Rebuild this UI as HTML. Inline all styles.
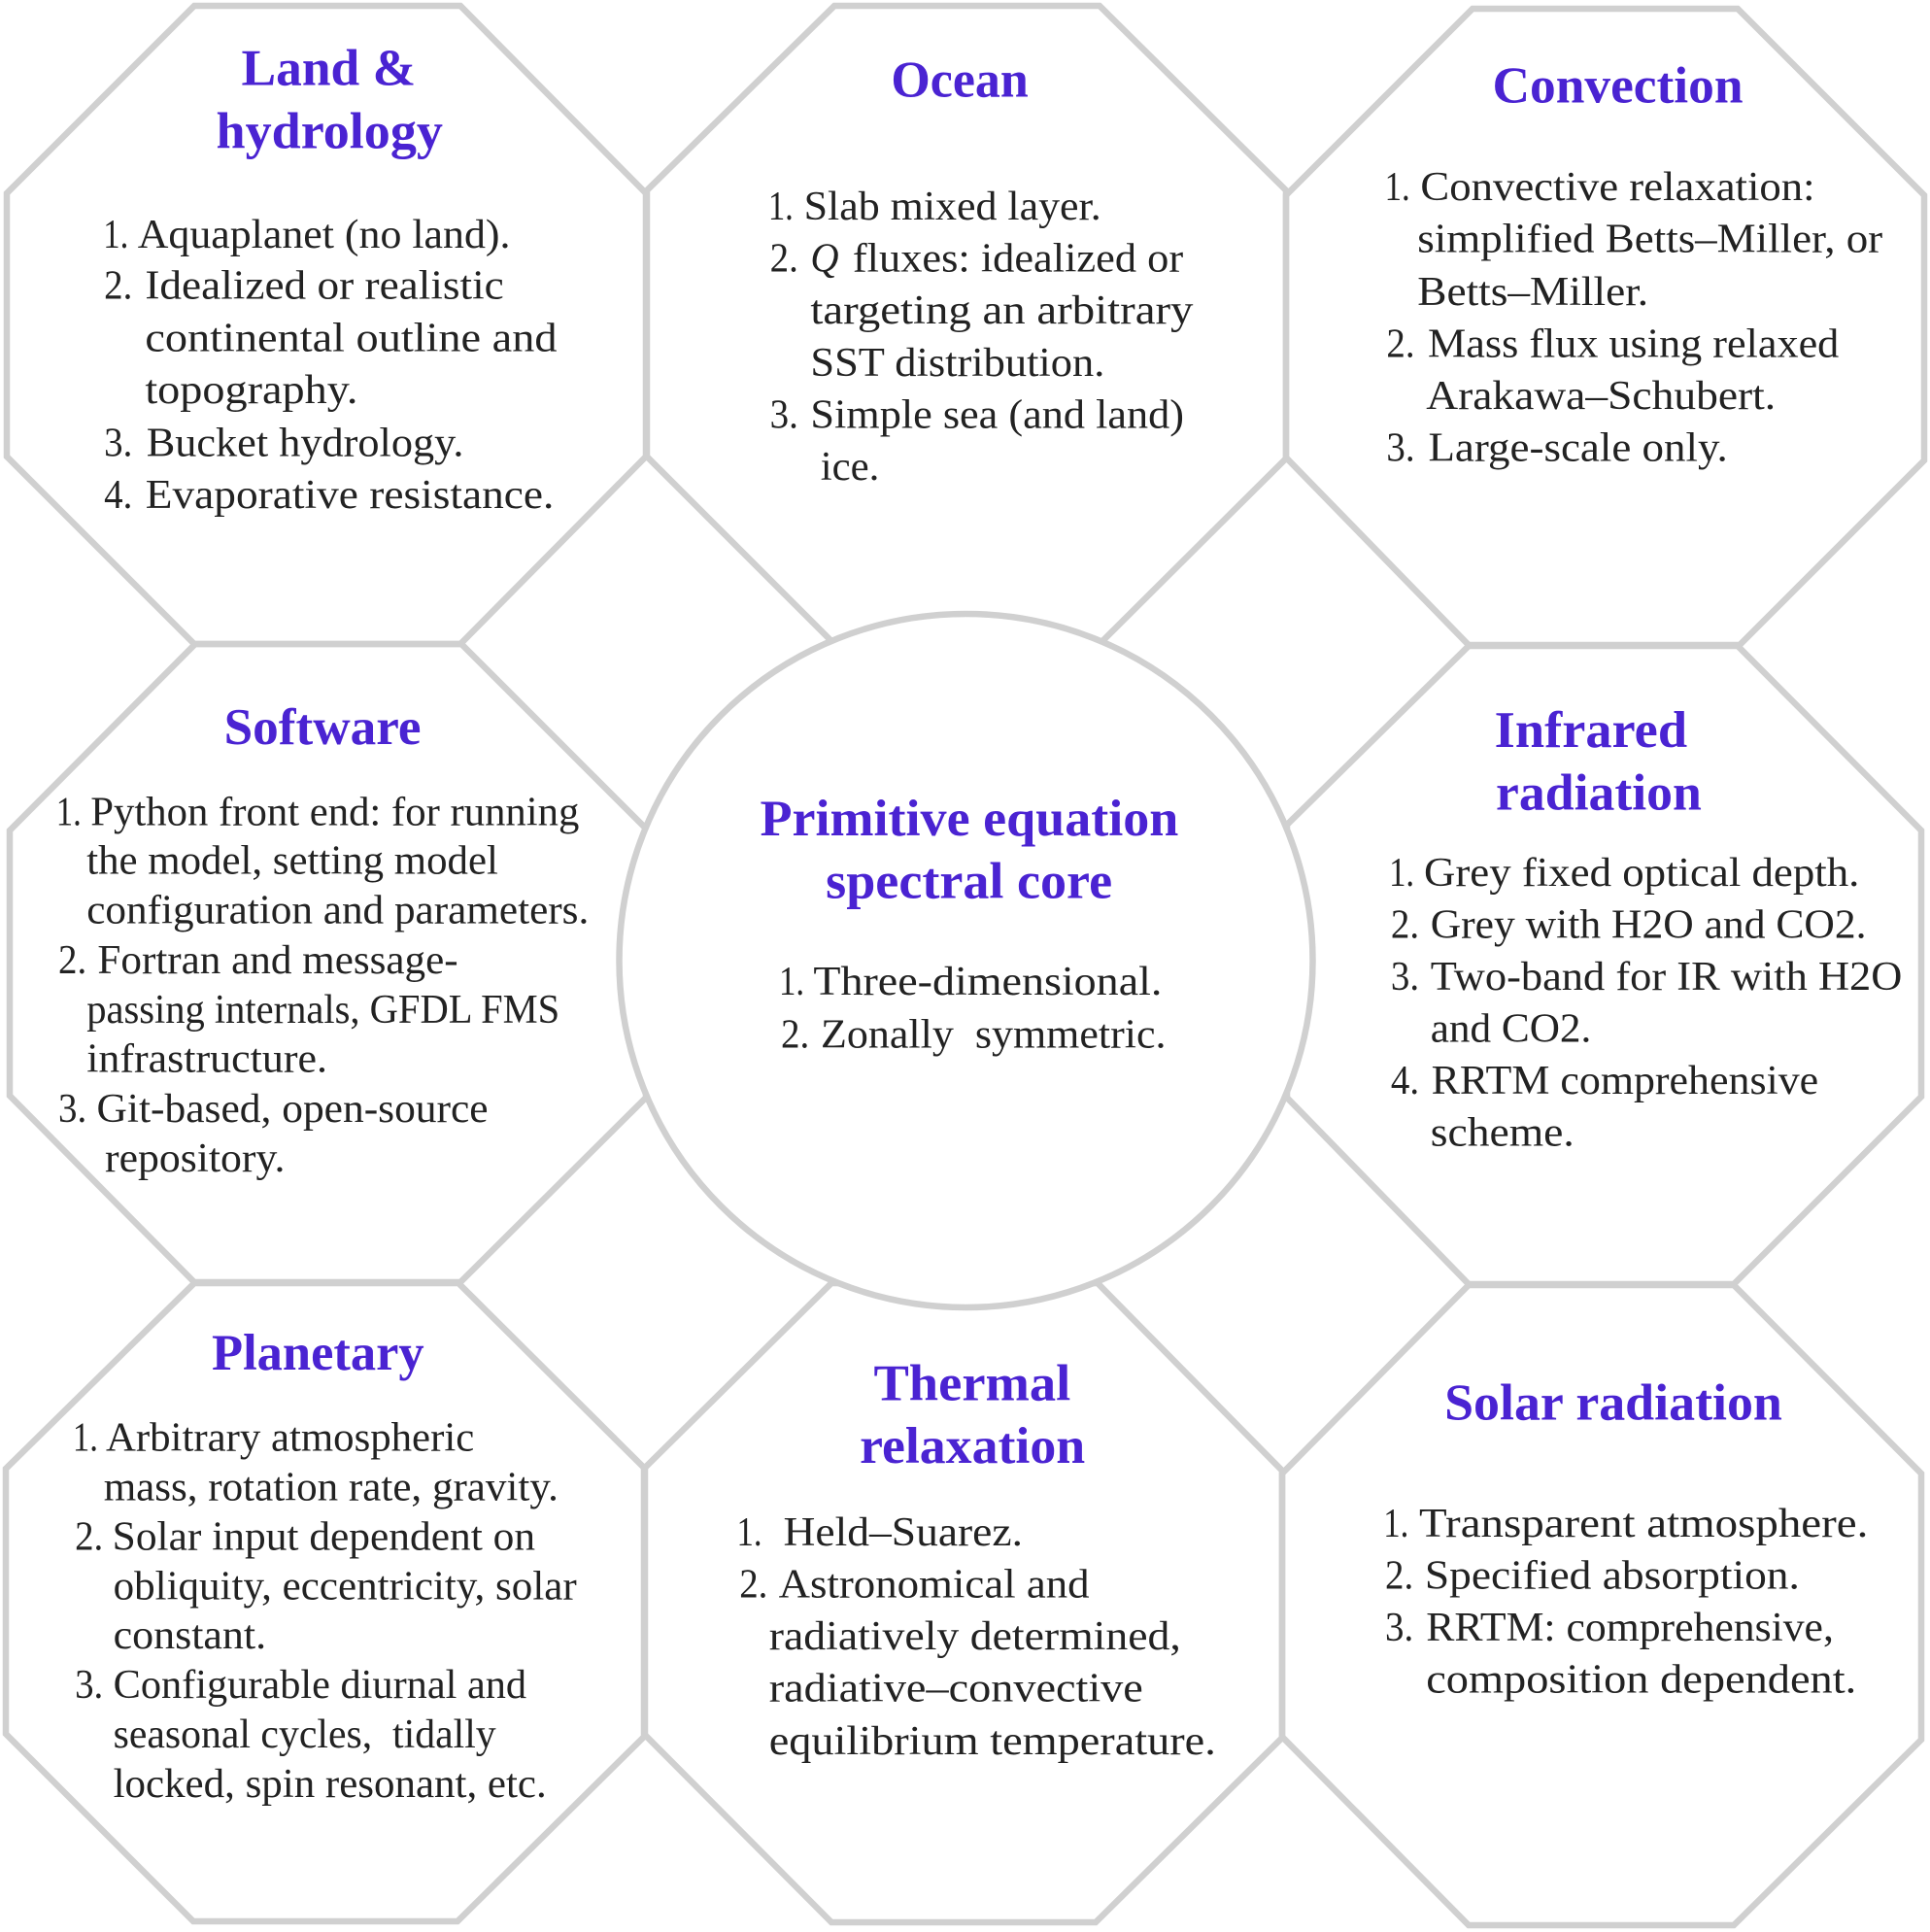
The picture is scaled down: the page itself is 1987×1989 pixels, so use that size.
<!DOCTYPE html>
<html><head><meta charset="utf-8"><style>
html,body{margin:0;padding:0;background:#fff;width:1987px;height:1989px;overflow:hidden}
svg{display:block}
.b{font-family:"Liberation Serif",serif;font-size:94px;fill:#222}
.c{font-family:"Liberation Serif",serif;font-size:82px;fill:#222}
.t{font-family:"Liberation Serif",serif;font-weight:bold;font-size:119px;fill:#4a23d2}
.u{font-family:"Liberation Serif",serif;font-weight:bold;font-size:104px;fill:#4a23d2}
</style></head><body>
<svg width="1987" height="1989" viewBox="0 0 1987 1989" xmlns="http://www.w3.org/2000/svg">
<rect width="1987" height="1989" fill="#fff"/>
<g fill="none" stroke="#d0d0d0" stroke-width="6.5" stroke-linejoin="miter">
<polygon points="200,6 474,6 665,199 665,470 474,663 200,663 7,470 7,199"/>
<polygon points="859,6 1132,6 1324,196 1324,472 1132,663 859,663 666,470 666,196"/>
<polygon points="1516,9 1789,9 1981,201 1981,474 1791,664 1512,664 1324,471 1324,201"/>
<polygon points="201,663 475,663 665,853 665,1130 474,1320 200,1320 10,1128 10,855"/>
<polygon points="1512,665 1789,665 1978,855 1978,1129 1785,1322 1512,1322 1325,1130 1325,849"/>
<polygon points="200,1321 472,1321 664,1512 664,1787 471,1978 199,1978 6,1785 6,1512"/>
<polygon points="856,1321 1130,1321 1320,1514 1320,1789 1128,1979 856,1979 663,1785 663,1512"/>
<polygon points="1512,1323 1785,1323 1978,1517 1978,1791 1785,1982 1512,1982 1320,1788 1320,1517"/>
</g>
<circle cx="994.5" cy="989" r="357" fill="#fff" stroke="#d0d0d0" stroke-width="6.5"/>

<g transform="translate(-1.9,0.6) scale(0.44884,0.44643)">
<text class="t" x="558" y="195" textLength="400" lengthAdjust="spacingAndGlyphs">Land &amp;</text>
<text class="t" x="500" y="340" textLength="520" lengthAdjust="spacingAndGlyphs">hydrology</text>
<text class="b" x="241" y="570" textLength="58" lengthAdjust="spacingAndGlyphs">1.</text>
<text class="b" x="320" y="570" textLength="855" lengthAdjust="spacingAndGlyphs">Aquaplanet (no land).</text>
<text class="b" x="243" y="688" textLength="65" lengthAdjust="spacingAndGlyphs">2.</text>
<text class="b" x="337" y="688" textLength="823" lengthAdjust="spacingAndGlyphs">Idealized or realistic</text>
<text class="b" x="337" y="808" textLength="945" lengthAdjust="spacingAndGlyphs">continental outline and</text>
<text class="b" x="337" y="928" textLength="488" lengthAdjust="spacingAndGlyphs">topography.</text>
<text class="b" x="243" y="1050" textLength="65" lengthAdjust="spacingAndGlyphs">3.</text>
<text class="b" x="340" y="1050" textLength="728" lengthAdjust="spacingAndGlyphs">Bucket hydrology.</text>
<text class="b" x="243" y="1170" textLength="65" lengthAdjust="spacingAndGlyphs">4.</text>
<text class="b" x="338" y="1170" textLength="937" lengthAdjust="spacingAndGlyphs">Evaporative resistance.</text>
</g>

<g transform="translate(648.1,0.6) scale(0.44884,0.44643)">
<text class="t" x="600" y="222" textLength="315" lengthAdjust="spacingAndGlyphs">Ocean</text>
<text class="b" x="318" y="505" textLength="58" lengthAdjust="spacingAndGlyphs">1.</text>
<text class="b" x="400" y="505" textLength="682" lengthAdjust="spacingAndGlyphs">Slab mixed layer.</text>
<text class="b" x="322" y="625" textLength="65" lengthAdjust="spacingAndGlyphs">2.</text>
<text class="b" x="415" y="625" textLength="65" lengthAdjust="spacingAndGlyphs" font-style="italic">Q</text>
<text class="b" x="512" y="625" textLength="758" lengthAdjust="spacingAndGlyphs">fluxes: idealized or</text>
<text class="b" x="415" y="745" textLength="878" lengthAdjust="spacingAndGlyphs">targeting an arbitrary</text>
<text class="b" x="415" y="865" textLength="675" lengthAdjust="spacingAndGlyphs">SST distribution.</text>
<text class="b" x="322" y="985" textLength="65" lengthAdjust="spacingAndGlyphs">3.</text>
<text class="b" x="415" y="985" textLength="857" lengthAdjust="spacingAndGlyphs">Simple sea (and land)</text>
<text class="b" x="438" y="1105" textLength="135" lengthAdjust="spacingAndGlyphs">ice.</text>
</g>

<g transform="translate(1285.1,0.6) scale(0.44884,0.44643)">
<text class="t" x="560" y="235" textLength="575" lengthAdjust="spacingAndGlyphs">Convection</text>
<text class="b" x="313" y="460" textLength="58" lengthAdjust="spacingAndGlyphs">1.</text>
<text class="b" x="395" y="460" textLength="905" lengthAdjust="spacingAndGlyphs">Convective relaxation:</text>
<text class="b" x="388" y="580" textLength="1067" lengthAdjust="spacingAndGlyphs">simplified Betts–Miller, or</text>
<text class="b" x="388" y="702" textLength="530" lengthAdjust="spacingAndGlyphs">Betts–Miller.</text>
<text class="b" x="317" y="822" textLength="65" lengthAdjust="spacingAndGlyphs">2.</text>
<text class="b" x="412" y="822" textLength="943" lengthAdjust="spacingAndGlyphs">Mass flux using relaxed</text>
<text class="b" x="408" y="942" textLength="802" lengthAdjust="spacingAndGlyphs">Arakawa–Schubert.</text>
<text class="b" x="317" y="1062" textLength="65" lengthAdjust="spacingAndGlyphs">3.</text>
<text class="b" x="413" y="1062" textLength="687" lengthAdjust="spacingAndGlyphs">Large-scale only.</text>
</g>

<g transform="translate(-1.9,650.6) scale(0.44884,0.44643)">
<text class="t" x="518" y="258" textLength="452" lengthAdjust="spacingAndGlyphs">Software</text>
<text class="b" x="133" y="445" textLength="58" lengthAdjust="spacingAndGlyphs">1.</text>
<text class="b" x="212" y="445" textLength="1121" lengthAdjust="spacingAndGlyphs">Python front end: for running</text>
<text class="b" x="203" y="558" textLength="944" lengthAdjust="spacingAndGlyphs">the model, setting model</text>
<text class="b" x="203" y="672" textLength="1152" lengthAdjust="spacingAndGlyphs">configuration and parameters.</text>
<text class="b" x="138" y="787" textLength="65" lengthAdjust="spacingAndGlyphs">2.</text>
<text class="b" x="228" y="787" textLength="827" lengthAdjust="spacingAndGlyphs">Fortran and message-</text>
<text class="b" x="203" y="901" textLength="1085" lengthAdjust="spacingAndGlyphs">passing internals, GFDL FMS</text>
<text class="b" x="203" y="1015" textLength="552" lengthAdjust="spacingAndGlyphs">infrastructure.</text>
<text class="b" x="138" y="1130" textLength="65" lengthAdjust="spacingAndGlyphs">3.</text>
<text class="b" x="226" y="1130" textLength="898" lengthAdjust="spacingAndGlyphs">Git-based, open-source</text>
<text class="b" x="245" y="1244" textLength="413" lengthAdjust="spacingAndGlyphs">repository.</text>
</g>

<g transform="translate(1285.1,650.6) scale(0.44884,0.44643)">
<text class="t" x="565" y="265" textLength="442" lengthAdjust="spacingAndGlyphs">Infrared</text>
<text class="t" x="568" y="410" textLength="472" lengthAdjust="spacingAndGlyphs">radiation</text>
<text class="b" x="323" y="585" textLength="58" lengthAdjust="spacingAndGlyphs">1.</text>
<text class="b" x="403" y="585" textLength="999" lengthAdjust="spacingAndGlyphs">Grey fixed optical depth.</text>
<text class="b" x="327" y="705" textLength="65" lengthAdjust="spacingAndGlyphs">2.</text>
<text class="b" x="418" y="705" textLength="1000" lengthAdjust="spacingAndGlyphs">Grey with H2O and CO2.</text>
<text class="b" x="327" y="825" textLength="65" lengthAdjust="spacingAndGlyphs">3.</text>
<text class="b" x="418" y="825" textLength="1082" lengthAdjust="spacingAndGlyphs">Two-band for IR with H2O</text>
<text class="b" x="418" y="945" textLength="369" lengthAdjust="spacingAndGlyphs">and CO2.</text>
<text class="b" x="327" y="1065" textLength="65" lengthAdjust="spacingAndGlyphs">4.</text>
<text class="b" x="420" y="1065" textLength="888" lengthAdjust="spacingAndGlyphs">RRTM comprehensive</text>
<text class="b" x="418" y="1185" textLength="330" lengthAdjust="spacingAndGlyphs">scheme.</text>
</g>

<g transform="translate(-1.9,1289.6) scale(0.44884,0.44643)">
<text class="t" x="490" y="270" textLength="487" lengthAdjust="spacingAndGlyphs">Planetary</text>
<text class="b" x="171" y="457" textLength="58" lengthAdjust="spacingAndGlyphs">1.</text>
<text class="b" x="247" y="457" textLength="845" lengthAdjust="spacingAndGlyphs">Arbitrary atmospheric</text>
<text class="b" x="242" y="571" textLength="1043" lengthAdjust="spacingAndGlyphs">mass, rotation rate, gravity.</text>
<text class="b" x="176" y="685" textLength="65" lengthAdjust="spacingAndGlyphs">2.</text>
<text class="b" x="262" y="685" textLength="970" lengthAdjust="spacingAndGlyphs">Solar input dependent on</text>
<text class="b" x="264" y="799" textLength="1063" lengthAdjust="spacingAndGlyphs">obliquity, eccentricity, solar</text>
<text class="b" x="264" y="913" textLength="351" lengthAdjust="spacingAndGlyphs">constant.</text>
<text class="b" x="176" y="1027" textLength="65" lengthAdjust="spacingAndGlyphs">3.</text>
<text class="b" x="264" y="1027" textLength="948" lengthAdjust="spacingAndGlyphs">Configurable diurnal and</text>
<text class="b" x="264" y="1141" textLength="878" lengthAdjust="spacingAndGlyphs">seasonal cycles,&#160; tidally</text>
<text class="b" x="264" y="1255" textLength="994" lengthAdjust="spacingAndGlyphs">locked, spin resonant, etc.</text>
</g>

<g transform="translate(648.1,1289.6) scale(0.44884,0.44643)">
<text class="t" x="560" y="340" textLength="452" lengthAdjust="spacingAndGlyphs">Thermal</text>
<text class="t" x="528" y="485" textLength="517" lengthAdjust="spacingAndGlyphs">relaxation</text>
<text class="b" x="246" y="675" textLength="58" lengthAdjust="spacingAndGlyphs">1.</text>
<text class="b" x="353" y="675" textLength="549" lengthAdjust="spacingAndGlyphs">Held–Suarez.</text>
<text class="b" x="252" y="795" textLength="65" lengthAdjust="spacingAndGlyphs">2.</text>
<text class="b" x="342" y="795" textLength="713" lengthAdjust="spacingAndGlyphs">Astronomical and</text>
<text class="b" x="320" y="915" textLength="945" lengthAdjust="spacingAndGlyphs">radiatively determined,</text>
<text class="b" x="320" y="1035" textLength="858" lengthAdjust="spacingAndGlyphs">radiative–convective</text>
<text class="b" x="320" y="1157" textLength="1025" lengthAdjust="spacingAndGlyphs">equilibrium temperature.</text>
</g>

<g transform="translate(1285.1,1289.6) scale(0.44884,0.44643)">
<text class="t" x="450" y="385" textLength="775" lengthAdjust="spacingAndGlyphs">Solar radiation</text>
<text class="b" x="310" y="655" textLength="58" lengthAdjust="spacingAndGlyphs">1.</text>
<text class="b" x="392" y="655" textLength="1030" lengthAdjust="spacingAndGlyphs">Transparent atmosphere.</text>
<text class="b" x="314" y="775" textLength="65" lengthAdjust="spacingAndGlyphs">2.</text>
<text class="b" x="405" y="775" textLength="860" lengthAdjust="spacingAndGlyphs">Specified absorption.</text>
<text class="b" x="314" y="895" textLength="65" lengthAdjust="spacingAndGlyphs">3.</text>
<text class="b" x="408" y="895" textLength="935" lengthAdjust="spacingAndGlyphs">RRTM: comprehensive,</text>
<text class="b" x="408" y="1015" textLength="987" lengthAdjust="spacingAndGlyphs">composition dependent.</text>
</g>

<g transform="translate(597.8,600.6) scale(0.51295,0.5102)">
<text class="u" x="360" y="508" textLength="840" lengthAdjust="spacingAndGlyphs">Primitive equation</text>
<text class="u" x="492" y="635" textLength="575" lengthAdjust="spacingAndGlyphs">spectral core</text>
<text class="c" x="398" y="830" textLength="51" lengthAdjust="spacingAndGlyphs">1.</text>
<text class="c" x="467" y="830" textLength="700" lengthAdjust="spacingAndGlyphs">Three-dimensional.</text>
<text class="c" x="402" y="937" textLength="57" lengthAdjust="spacingAndGlyphs">2.</text>
<text class="c" x="482" y="937" textLength="693" lengthAdjust="spacingAndGlyphs">Zonally&#160; symmetric.</text>
</g>
</svg>
</body></html>
